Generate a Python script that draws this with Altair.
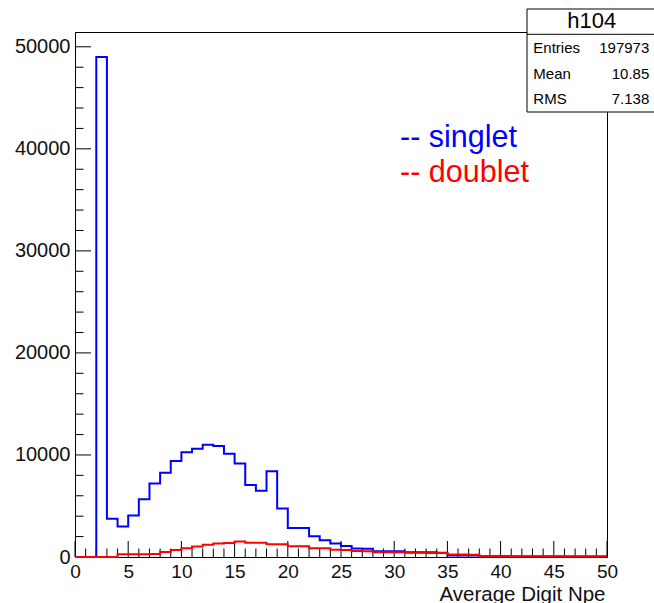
import altair as alt
import pandas as pd

# ---- data ----
x_min, x_max = 0, 50
bin_edges = list(range(0, 51))  # 50 bins of width 1
singlet = [0, 0, 49000, 3750, 3000, 4070, 5660, 7200, 8250, 9400,
           10260, 10600, 11000, 10870, 10130, 9160, 7060, 6500, 8410, 4760,
           2850, 2850, 2040, 1650, 1320, 1080, 830, 820, 570, 560,
           560, 470, 470, 470, 420, 150, 150, 150, 70, 60,
           60, 50, 50, 40, 40, 40, 30, 30, 30, 30]
doublet = [0, 0, 0, 0, 260, 260, 260, 290, 490, 680,
           850, 1040, 1200, 1330, 1380, 1530, 1400, 1390, 1250, 1240,
           1060, 1050, 860, 850, 700, 690, 580, 570, 470, 470,
           460, 420, 410, 400, 390, 240, 240, 230, 90, 90,
           90, 80, 80, 80, 80, 70, 70, 70, 70, 70]
y_max = 51450
y_major = [0, 10000, 20000, 30000, 40000, 50000]
y_minor = [v for v in range(0, 51001, 2000) if v not in y_major]
x_major = [0, 5, 10, 15, 20, 25, 30, 35, 40, 45, 50]
x_minor = [v for v in range(0, 51) if v not in x_major]
x_title = "Average Digit Npe"
legend_labels = ["-- singlet", "-- doublet"]
legend_colors = ["#0000ff", "#ff0000"]
hist_name = "h104"
stat_names = ["Entries", "Mean", "RMS"]
stat_values = ["197973", "10.85", "7.138"]

W, H = 532, 525
FONT = "Liberation Sans"

xs = alt.Scale(domain=[x_min, x_max], nice=False, zero=False)
ys = alt.Scale(domain=[0, y_max], nice=False)

def step_df(vals):
    return pd.DataFrame({"x": bin_edges, "y": vals + [vals[-1]]})

blue = alt.Chart(step_df(singlet)).mark_line(
    interpolate="step-after", color="#0000ff", strokeWidth=2
).encode(
    x=alt.X("x:Q", scale=xs, axis=alt.Axis(
        values=x_major, ticks=False, grid=False, labelPadding=5,
        labelFontSize=19, labelFont=FONT, labelColor="#111111",
        domainColor="black", title=x_title, titleFont=FONT, titleFontSize=20.5,
        titleFontWeight="normal", titleColor="#111111",
        titleX=W - 2, titleY=43, titleAlign="right", titleBaseline="alphabetic",
        labelFlush=False, labelOverlap=False)),
    y=alt.Y("y:Q", scale=ys, axis=alt.Axis(
        values=y_major, format="d", ticks=False, grid=False, labelPadding=5,
        labelFontSize=20, labelFont=FONT, labelColor="#111111",
        domainColor="black", title=None, labelFlush=False, labelOverlap=False)),
)
red = alt.Chart(step_df(doublet)).mark_line(
    interpolate="step-after", color="#ff0000", strokeWidth=2
).encode(x=alt.X("x:Q", scale=xs), y=alt.Y("y:Q", scale=ys))

def xticks(vals, length):
    return alt.Chart(pd.DataFrame({"v": vals})).mark_rule(color="black", strokeWidth=1).encode(
        x=alt.X("v:Q", scale=xs), y=alt.value(H), y2=alt.value(H - length))

def yticks(vals, length):
    return alt.Chart(pd.DataFrame({"v": vals})).mark_rule(color="black", strokeWidth=1).encode(
        y=alt.Y("v:Q", scale=ys), x=alt.value(0), x2=alt.value(length))

one = pd.DataFrame({"a": [0]})

layers = [xticks(x_major, 16), xticks(x_minor, 8.5),
          yticks(y_major, 16), yticks(y_minor, 8.5), blue, red]

# legend texts
for i, (lab, col) in enumerate(zip(legend_labels, legend_colors)):
    layers.append(alt.Chart(one).mark_text(
        align="left", baseline="alphabetic", font=FONT, fontSize=30.5, color=col
    ).encode(x=alt.value(325), y=alt.value(114.7 + 35 * i), text=alt.value(lab)))

# stats box
bx0, bx1, by0, by1, bsep = 452, 590, -23, 80, 2.3
layers.append(alt.Chart(one).mark_rect(fill="white", stroke="black", strokeWidth=1).encode(
    x=alt.value(bx0), x2=alt.value(bx1), y=alt.value(by0), y2=alt.value(by1)))
layers.append(alt.Chart(one).mark_rule(color="black", strokeWidth=1).encode(
    x=alt.value(bx0), x2=alt.value(bx1), y=alt.value(bsep)))
layers.append(alt.Chart(one).mark_text(
    align="center", baseline="middle", font=FONT, fontSize=22, color="black"
).encode(x=alt.value(516.7), y=alt.value(-11.5), text=alt.value(hist_name)))
for i, (nm, vl) in enumerate(zip(stat_names, stat_values)):
    yy = 16.3 + 25.5 * i
    layers.append(alt.Chart(one).mark_text(
        align="left", baseline="middle", font=FONT, fontSize=15, color="black"
    ).encode(x=alt.value(458.3), y=alt.value(yy), text=alt.value(nm)))
    layers.append(alt.Chart(one).mark_text(
        align="right", baseline="middle", font=FONT, fontSize=15, color="black"
    ).encode(x=alt.value(574.3), y=alt.value(yy), text=alt.value(vl)))

chart = alt.layer(*layers).properties(
    width=W, height=H,
    autosize=alt.AutoSizeParams(type="none"),
    padding={"left": 75, "top": 32, "right": 654 - 75 - W, "bottom": 603 - 32 - H},
    background="white",
).configure_view(stroke="black", strokeWidth=1)

chart.save("out.html", embed_options={"renderer": "svg", "actions": False})
